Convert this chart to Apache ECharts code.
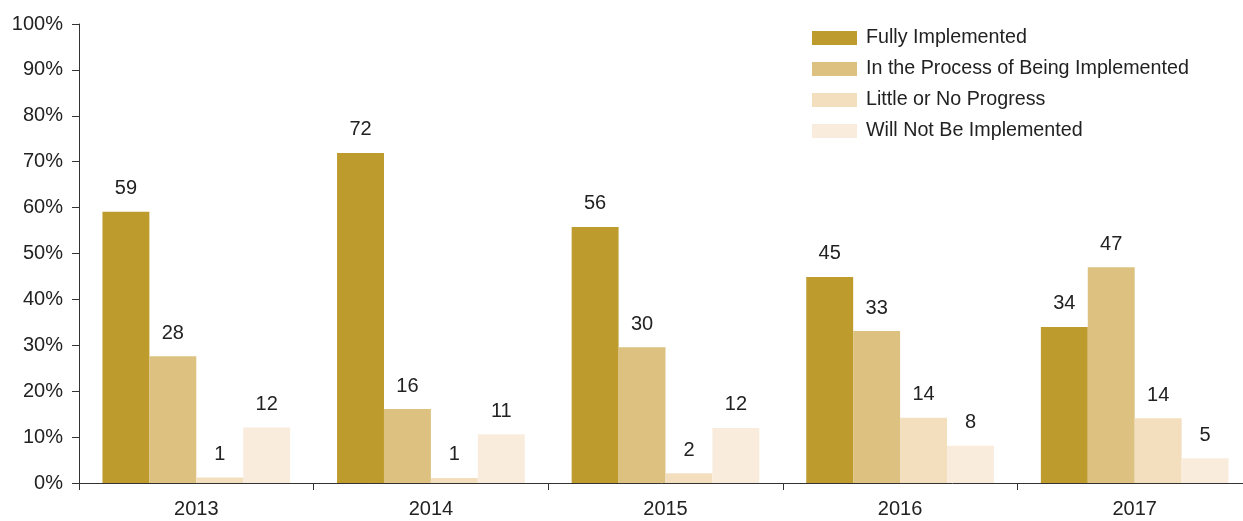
<!DOCTYPE html>
<html>
<head>
<meta charset="utf-8">
<script src="https://cdn.jsdelivr.net/npm/echarts@6/dist/echarts.min.js"></script>
<style>
  html, body { margin: 0; padding: 0; background: #fff; }
  #main { width: 1243px; height: 521px; }
</style>
</head>
<body>
<div id="main"></div>
<script>
var years = ['2013', '2014', '2015', '2016', '2017'];
var fullyImplemented = [59.1, 71.9, 55.8, 44.9, 34.0];
var inProcess = [27.6, 16.1, 29.6, 33.1, 47.0];
var littleProgress = [1.2, 1.1, 2.1, 14.2, 14.1];
var willNot = [12.1, 10.6, 12.0, 8.1, 5.4];
var yTicks = [0, 10, 20, 30, 40, 50, 60, 70, 80, 90, 100];

var seriesNames = ['Fully Implemented', 'In the Process of Being Implemented', 'Little or No Progress', 'Will Not Be Implemented'];
var seriesColors = ['#BD9B2C', '#DCC180', '#F3DFBE', '#F9ECDC'];
var seriesData = [fullyImplemented, inProcess, littleProgress, willNot];

var myChart = echarts.init(document.getElementById('main'));

var series = [];
for (var i = 0; i < seriesNames.length; i++) {
    series.push({
        name: seriesNames[i],
        type: 'bar',
        data: seriesData[i],
        barGap: '0%',
        barCategoryGap: '20%',
        itemStyle: { color: seriesColors[i] },
        label: {
            show: true,
            position: 'top',
            distance: 13,
            color: '#222',
            fontSize: 20,
            fontFamily: 'Liberation Sans, Arial, sans-serif',
            formatter: function (p) { return Math.round(p.value); }
        }
    });
}

var option = {
    animation: false,
    textStyle: { fontFamily: 'Liberation Sans, Arial, sans-serif' },
    legend: {
        orient: 'vertical',
        left: 807,
        top: 23,
        itemWidth: 45,
        itemHeight: 14,
        itemGap: 11,
        icon: 'rect',
        data: seriesNames,
        textStyle: { fontSize: 19.7, color: '#222', padding: [0, 0, 0, 4] }
    },
    grid: {
        left: 79,
        right: -9,
        top: 24,
        bottom: 38,
        containLabel: false,
        outerBoundsMode: 'none'
    },
    xAxis: {
        type: 'category',
        data: years,
        axisLine: { lineStyle: { color: '#333', width: 1 } },
        axisTick: { show: true, length: 7, lineStyle: { color: '#333' } },
        axisLabel: { fontSize: 20, color: '#222', margin: 16 }
    },
    yAxis: {
        type: 'value',
        min: yTicks[0],
        max: yTicks[yTicks.length - 1],
        interval: 10,
        splitLine: { show: false },
        axisLine: { show: true, lineStyle: { color: '#333', width: 1 } },
        axisTick: { show: true, length: 7, lineStyle: { color: '#333' } },
        axisLabel: { fontSize: 20, color: '#222', margin: 16, formatter: '{value}%' }
    },
    series: series
};

myChart.setOption(option);
</script>
</body>
</html>
